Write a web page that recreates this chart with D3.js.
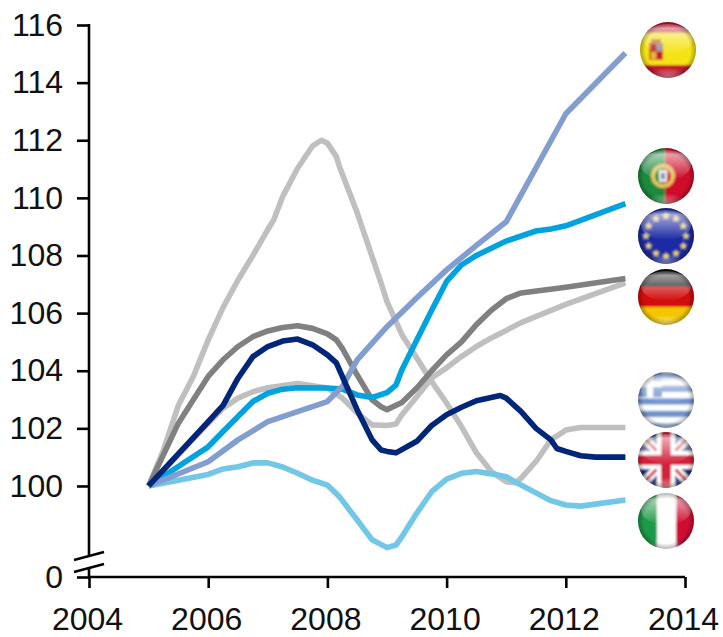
<!DOCTYPE html>
<html lang="en">
<head>
<meta charset="utf-8">
<script src="https://d3js.org/d3.v7.min.js"></script>
<style type="text/css">
body { margin: 0; background: #fff; }
svg { display: block; }
.axis text { font: 32px "Liberation Sans", Arial, sans-serif; fill: #111; }
.axis line, .axis-line { stroke: #000; stroke-width: 2.6; fill: none; }
.axis path { display: none; }
.series { fill: none; stroke-width: 5.6; stroke-linejoin: round; }
</style>
</head>
<body>
<div id="chart"></div>
<script type="text/javascript">

// tick labels
var xTicks = [2004, 2006, 2008, 2010, 2012, 2014];
var yTicks = [0, 100, 102, 104, 106, 108, 110, 112, 114, 116];

// [year, index]
var greece = [[2005,100],[2005.25,101.25],[2005.5,102.8],[2005.75,103.8],[2006,105.07],[2006.25,106.2],[2006.5,107.15],[2006.75,108],[2007,108.9],[2007.1,109.24],[2007.25,110.05],[2007.5,111.03],[2007.75,111.8],[2007.9,112],[2008,111.9],[2008.15,111.43],[2008.2,111.1],[2008.5,109.48],[2008.75,107.96],[2008.9,107.05],[2009,106.4],[2009.25,105.25],[2009.5,104.44],[2009.75,103.62],[2010,102.88],[2010.25,102.06],[2010.5,101.15],[2010.75,100.5],[2011,100.15],[2011.15,100.11],[2011.25,100.27],[2011.5,100.85],[2011.75,101.6],[2012,101.94],[2012.25,102.03],[2013,102.03]];
var germany = [[2005,100],[2006,102.18],[2006.25,102.7],[2006.5,103.05],[2006.75,103.27],[2007,103.41],[2007.5,103.56],[2008,103.4],[2008.25,103.05],[2008.5,102.53],[2008.75,102.12],[2009,102.1],[2009.15,102.15],[2009.25,102.47],[2009.5,103.1],[2009.75,103.75],[2010,104.1],[2010.25,104.49],[2010.5,104.84],[2010.75,105.14],[2011,105.4],[2011.25,105.67],[2012,106.3],[2013,107.05]];
var euro = [[2005,100],[2005.5,102.18],[2005.75,102.99],[2006,103.8],[2006.25,104.38],[2006.5,104.84],[2006.75,105.18],[2007,105.38],[2007.25,105.5],[2007.5,105.56],[2007.75,105.47],[2008,105.28],[2008.15,105.07],[2008.25,104.78],[2008.5,103.85],[2008.75,102.99],[2008.9,102.75],[2009,102.65],[2009.25,102.9],[2009.5,103.4],[2009.75,104],[2010,104.55],[2010.25,105],[2010.5,105.6],[2010.75,106.1],[2011,106.5],[2011.25,106.7],[2012,106.9],[2013,107.2]];
var italy = [[2005,100],[2006,100.4],[2006.25,100.59],[2006.5,100.67],[2006.75,100.8],[2007,100.8],[2007.25,100.66],[2007.5,100.44],[2007.75,100.2],[2008,100.03],[2008.2,99.63],[2008.5,98.82],[2008.75,98.13],[2009,97.86],[2009.15,97.95],[2009.25,98.24],[2009.5,99.06],[2009.75,99.8],[2010,100.24],[2010.25,100.44],[2010.5,100.5],[2010.75,100.42],[2011,100.32],[2011.25,100.03],[2011.5,99.76],[2011.75,99.49],[2012,99.34],[2012.25,99.3],[2013,99.51]];
var portugal = [[2005,100],[2006,101.36],[2006.25,101.89],[2006.5,102.41],[2006.75,102.93],[2007,103.22],[2007.25,103.36],[2007.5,103.41],[2008,103.4],[2008.25,103.36],[2008.5,103.16],[2008.75,103.07],[2009,103.24],[2009.15,103.5],[2009.25,104.03],[2009.5,105.07],[2009.75,106.1],[2010,107.1],[2010.25,107.67],[2010.5,108],[2011,108.5],[2011.5,108.85],[2011.75,108.92],[2012,109.03],[2013,109.8]];
var spain = [[2005,100],[2006,100.84],[2006.5,101.6],[2007,102.23],[2008,102.93],[2008.25,103.45],[2008.5,104.38],[2009,105.53],[2009.5,106.53],[2010,107.5],[2010.5,108.35],[2011,109.17],[2012,112.92],[2013,115.03]];
var uk = [[2005,100],[2006,102.23],[2006.25,102.8],[2006.5,103.74],[2006.75,104.49],[2007,104.84],[2007.25,105.03],[2007.5,105.1],[2007.75,104.9],[2008,104.55],[2008.15,104.27],[2008.25,103.8],[2008.5,102.64],[2008.75,101.6],[2008.9,101.25],[2009,101.2],[2009.15,101.15],[2009.5,101.55],[2009.75,102.1],[2010,102.47],[2010.25,102.73],[2010.5,102.96],[2010.9,103.14],[2011,103.05],[2011.25,102.58],[2011.5,102],[2011.75,101.6],[2011.85,101.3],[2012,101.2],[2012.25,101.05],[2012.5,101],[2013,101]];

var width = 723;
var height = 637;

var x = d3.scaleLinear().domain([2004, 2014]).range([89, 685]);
// broken axis: everything from 0 to 97 is squeezed under the break
var y = d3.scaleLinear().domain([0, 97, 116]).range([577, 572.4, 25]);

var svg = d3.select("#chart")
  .append("svg")
  .attr("width", width)
  .attr("height", height);

var defs = svg.append("defs");

// x axis
svg.append("g")
  .attr("class", "axis")
  .attr("transform", "translate(0,577)")
  .call(d3.axisBottom(x).tickValues(xTicks).tickFormat(d3.format("d")).tickSize(11).tickPadding(19))
  .selectAll("text").attr("dx", -2);

// y axis, with the domain line drawn by hand around the break
svg.append("g")
  .attr("class", "axis")
  .attr("transform", "translate(89,0)")
  .call(d3.axisLeft(y).tickValues(yTicks).tickFormat(d3.format("d")).tickSize(12).tickPadding(14));

svg.append("line").attr("class", "axis-line").attr("x1", 89).attr("x2", 89).attr("y1", 24).attr("y2", 555);
svg.append("line").attr("class", "axis-line").attr("x1", 89).attr("x2", 89).attr("y1", 568).attr("y2", 577);
svg.append("line").attr("class", "axis-line").attr("x1", 88).attr("x2", 685).attr("y1", 577).attr("y2", 577);
svg.append("line").attr("class", "axis-line").attr("x1", 74).attr("x2", 104).attr("y1", 560).attr("y2", 552);
svg.append("line").attr("class", "axis-line").attr("x1", 74).attr("x2", 104).attr("y1", 572).attr("y2", 564);

// lines, bottom to top
var line = d3.line()
  .x(function(d) { return x(d[0]); })
  .y(function(d) { return y(d[1]); });

var series = [
  { values: greece, color: "#bfbfbf" },
  { values: germany, color: "#bfbfbf" },
  { values: euro, color: "#808080" },
  { values: italy, color: "#72c7e7" },
  { values: portugal, color: "#00a3e0" },
  { values: spain, color: "#829dcf" },
  { values: uk, color: "#00267a" }
];

svg.selectAll("path.series")
  .data(series)
  .enter()
  .append("path")
  .attr("class", "series")
  .attr("d", function(d) { return line(d.values); })
  .style("stroke", function(d) { return d.color; });

// glossy flag buttons
var gloss = defs.append("linearGradient").attr("id", "gloss")
  .attr("x1", "0%").attr("y1", "0%").attr("x2", "0%").attr("y2", "100%");
gloss.append("stop").attr("offset", "0%").attr("stop-color", "#fff").attr("stop-opacity", 0.2);
gloss.append("stop").attr("offset", "15%").attr("stop-color", "#fff").attr("stop-opacity", 0.6);
gloss.append("stop").attr("offset", "100%").attr("stop-color", "#fff").attr("stop-opacity", 0);

var rim = defs.append("radialGradient").attr("id", "rim");
rim.append("stop").attr("offset", "80%").attr("stop-color", "#000").attr("stop-opacity", 0);
rim.append("stop").attr("offset", "100%").attr("stop-color", "#000").attr("stop-opacity", 0.3);

var shine = defs.append("radialGradient").attr("id", "shine")
  .attr("cx", "50%").attr("cy", "100%").attr("r", "45%");
shine.append("stop").attr("offset", "0%").attr("stop-color", "#fff").attr("stop-opacity", 0.5);
shine.append("stop").attr("offset", "100%").attr("stop-color", "#fff").attr("stop-opacity", 0);

defs.append("filter").attr("id", "soft").append("feGaussianBlur").attr("stdDeviation", 0.8);

var R = 28;

function flag(id, cx, cy, draw) {
  defs.append("clipPath").attr("id", "clip-" + id)
    .append("circle").attr("r", R);
  var g = svg.append("g").attr("transform", "translate(" + cx + "," + cy + ")");
  var c = g.append("g").attr("clip-path", "url(#clip-" + id + ")");
  var art = c.append("g").attr("filter", "url(#soft)");
  draw(art);
  c.append("ellipse").attr("cx", 0).attr("cy", -11).attr("rx", 25).attr("ry", 15).style("fill", "url(#gloss)");
  c.append("ellipse").attr("cx", 0).attr("cy", 16).attr("rx", 24).attr("ry", 12).style("fill", "url(#shine)");
  g.append("circle").attr("r", R).style("fill", "url(#rim)");
}

function band(g, x0, y0, w, h, color) {
  g.append("rect").attr("x", x0).attr("y", y0).attr("width", w).attr("height", h).style("fill", color);
}

flag("es", 668, 50, function(g) {
  band(g, -30, -30, 60, 60, "#f5e318");
  band(g, -30, -30, 60, 13, "#c4122f");
  band(g, -30, 15, 60, 15, "#c4122f");
  band(g, -19, -7, 14, 17, "#c8622a");
  band(g, -17, -6, 5, 7, "#c4122f");
  band(g, -11, -6, 5, 7, "#8a8fb5");
  band(g, -17, 2, 5, 7, "#e8b83a");
  band(g, -11, 2, 5, 7, "#c4122f");
  band(g, -17, -11, 10, 4, "#b5792c");
});

flag("pt", 666, 176, function(g) {
  band(g, -30, -30, 30, 60, "#1e8a3c");
  band(g, -1, -30, 31, 60, "#cf0a2c");
  g.append("circle").attr("cx", -3).attr("r", 10).style("fill", "none").style("stroke", "#e4c35a").style("stroke-width", 4);
  band(g, -7, -6, 8, 12, "#e9e9e9");
  band(g, -5, -3, 4, 6, "#6f86b8");
});

flag("eu", 666, 236, function(g) {
  band(g, -30, -30, 60, 60, "#1f2aa3");
  var star = d3.symbol().type(d3.symbolStar).size(20);
  d3.range(12).forEach(function(i) {
    var a = i * Math.PI / 6;
    g.append("path").attr("d", star)
      .attr("transform", "translate(" + (20 * Math.sin(a)) + "," + (-20 * Math.cos(a)) + ")")
      .style("fill", "#f7e35a");
  });
});

flag("de", 666, 297, function(g) {
  band(g, -30, -30, 60, 20, "#111");
  band(g, -30, -10, 60, 20, "#d20a11");
  band(g, -30, 10, 60, 20, "#f3c600");
});

flag("gr", 666, 400, function(g) {
  band(g, -30, -30, 60, 60, "#ffffff");
  d3.range(5).forEach(function(i) {
    band(g, -30, -27 + i * 12.6, 60, 6.3, "#6f93cc");
  });
  band(g, -30, -30, 26, 27, "#6f93cc");
  band(g, -19, -30, 6, 27, "#ffffff");
  band(g, -30, -19, 26, 6, "#ffffff");
});

flag("uk", 666, 460, function(g) {
  band(g, -30, -30, 60, 60, "#1f2f7a");
  [[-30, -30, 30, 30], [-30, 30, 30, -30]].forEach(function(s) {
    g.append("line").attr("x1", s[0]).attr("y1", s[1]).attr("x2", s[2]).attr("y2", s[3])
      .style("stroke", "#fff").style("stroke-width", 9);
    g.append("line").attr("x1", s[0]).attr("y1", s[1]).attr("x2", s[2]).attr("y2", s[3])
      .style("stroke", "#d3213a").style("stroke-width", 3);
  });
  band(g, -9, -30, 18, 60, "#fff");
  band(g, -30, -9, 60, 18, "#fff");
  band(g, -5, -30, 10, 60, "#d3213a");
  band(g, -30, -5, 60, 10, "#d3213a");
});

flag("it", 666, 521, function(g) {
  band(g, -30, -30, 21, 60, "#1f9a46");
  band(g, -9, -30, 19, 60, "#ffffff");
  band(g, 10, -30, 20, 60, "#cf1030");
});

</script>
</body>
</html>
